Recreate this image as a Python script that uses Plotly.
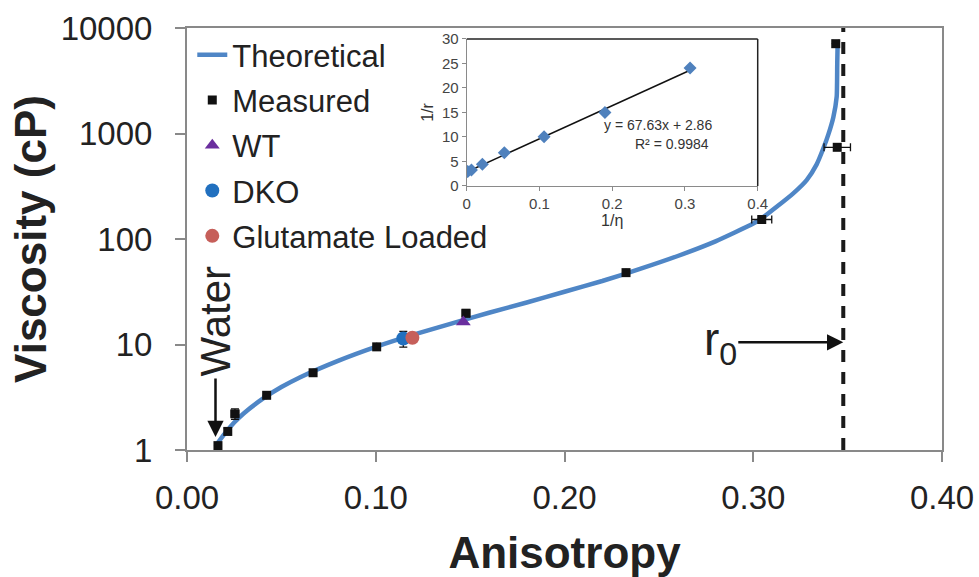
import numpy as np
import plotly.graph_objects as go

# ---------------- data ----------------
# Theoretical curve (anisotropy r, viscosity cP)
curve_r = [0.0160, 0.0200, 0.0250, 0.0300, 0.0400, 0.0500, 0.0600, 0.0800,
           0.1000, 0.1200, 0.1400, 0.1600, 0.1800, 0.2000, 0.2200, 0.2400,
           0.2600, 0.2800, 0.3000, 0.3045, 0.3124, 0.3212, 0.3283, 0.3336,
           0.3371, 0.3398, 0.3424, 0.3442, 0.3445, 0.3447]
curve_eta = [1.15, 1.43, 1.82, 2.22, 3.05, 3.95, 4.9, 7.0,
             9.5, 12.4, 15.8, 20.0, 25.0, 31.6, 40.0, 52.0,
             69.0, 95.0, 140.0, 157.0, 202.0, 271.0, 362.0, 510.0,
             720.0, 980.0, 1420.0, 2230.0, 4600.0, 7000.0]

# Measured points
meas_r = [0.0164, 0.0216, 0.0254, 0.0422, 0.0668, 0.1005, 0.1478, 0.2326, 0.3045, 0.3445, 0.3437]
meas_eta = [1.1, 1.5, 2.2, 3.3, 5.4, 9.5, 19.8, 48.0, 153.0, 740.0, 7100.0]
meas_r_err = [0.0, 0.0015, 0.0020, 0.0, 0.0, 0.0, 0.0020, 0.0, 0.0053, 0.0070, 0.0015]
meas_eta_err = [0.0, 0.1, 0.25, 0.0, 0.0, 0.0, 1.5, 0.0, 0.0, 0.0, 0.0]

# Samples
wt_r, wt_eta = [0.1464], [16.3]
dko_r, dko_eta = [0.1146], [11.4]
dko_err_plus, dko_err_minus = [1.9], [1.95]
glu_r, glu_eta = [0.1194], [11.6]

# r0 limit
R0 = 0.3477

# Inset (1/eta vs 1/r)
inset_x = [0.0001, 0.0014, 0.0065, 0.0215, 0.0517, 0.1063, 0.1900, 0.3070]
inset_y = [2.95, 2.95, 3.25, 4.43, 6.80, 10.07, 15.0, 24.1]
trend_x = [0.0, 0.3070]
trend_y = [2.86, 23.62]

x_ticks = [0.0, 0.1, 0.2, 0.3, 0.4]
x_ticktext = ["0.00", "0.10", "0.20", "0.30", "0.40"]
y_ticks = [1, 10, 100, 1000, 10000]
y_ticktext = ["1", "10", "100", "1000", "10000"]

FONT = "Liberation Sans, Arial, sans-serif"
GRAY = "#898989"
BLUE_LINE = "#4F86C6"

fig = go.Figure()

fig.add_trace(go.Scatter(
    x=curve_r, y=curve_eta, mode="lines", name="Theoretical",
    line=dict(color=BLUE_LINE, width=4.5, shape="spline", smoothing=0.5), legendgroup="a"))

fig.add_trace(go.Scatter(
    x=meas_r, y=meas_eta, mode="markers", name="Measured",
    marker=dict(symbol="square", size=9, color="#111111"),
    error_x=dict(type="data", array=meas_r_err, color="#111111", thickness=1.3, width=4),
    error_y=dict(type="data", array=meas_eta_err, color="#111111", thickness=1.3, width=4),
    legendgroup="b"))

fig.add_trace(go.Scatter(
    x=wt_r, y=wt_eta, mode="markers", name="WT",
    marker=dict(symbol="triangle-up", size=13, color="#6A2E9E"), legendgroup="c"))

fig.add_trace(go.Scatter(
    x=dko_r, y=dko_eta, mode="markers", name="DKO",
    marker=dict(symbol="circle", size=14, color="#2170BF"),
    error_y=dict(type="data", array=dko_err_plus, arrayminus=dko_err_minus,
                 color="#111111", thickness=1.3, width=4),
    legendgroup="d"))

fig.add_trace(go.Scatter(
    x=glu_r, y=glu_eta, mode="markers", name="Glutamate Loaded",
    marker=dict(symbol="circle", size=14, color="#C65F5A"), legendgroup="e"))

# inset traces
fig.add_trace(go.Scatter(
    x=trend_x, y=trend_y, mode="lines", xaxis="x2", yaxis="y2",
    line=dict(color="#111111", width=1.5), showlegend=False))
fig.add_trace(go.Scatter(
    x=inset_x, y=inset_y, mode="markers", xaxis="x2", yaxis="y2",
    marker=dict(symbol="diamond", size=10, color="#4F81BD"), showlegend=False))

# r0 dashed line
fig.add_shape(type="line", xref="x", yref="paper", x0=R0, x1=R0, y0=0, y1=1,
              line=dict(color="#1a1a1a", width=4, dash="12px,10px"))
# inset top/right frame
fig.add_shape(type="line", xref="x2 domain", yref="y2 domain", x0=0, x1=1, y0=1, y1=1,
              line=dict(color="#222222", width=1.5))
fig.add_shape(type="line", xref="x2 domain", yref="y2 domain", x0=1, x1=1, y0=0, y1=1,
              line=dict(color="#222222", width=1.5))
# small elbow at the start of the water arrow
fig.add_shape(type="line", xref="x", yref="y", x0=0.0085, x1=0.0152,
              y0=np.log10(5.1), y1=np.log10(5.1), line=dict(color="#111111", width=2.5))

annotations = [
    # Water label with arrow pointing down to the water point
    dict(x=0.0151, y=np.log10(1.33), xref="x", yref="y", text="Water", showarrow=True,
         ax=0, ay=-115, textangle=-90, arrowhead=2, arrowsize=1.3, arrowwidth=2.5,
         arrowcolor="#111111", font=dict(family=FONT, size=42, color="#222222")),
    # r0 label with arrow pointing to the dashed line
    dict(x=R0, y=np.log10(10.5), xref="x", yref="y", text="r<sub>0</sub>", showarrow=True,
         ax=-123, ay=0, arrowhead=2, arrowsize=1.3, arrowwidth=2.5, arrowcolor="#111111",
         font=dict(family=FONT, size=46, color="#222222")),
    # inset equation
    dict(x=0.263, y=12.45, xref="x2", yref="y2", text="y = 67.63x + 2.86", showarrow=False,
         font=dict(family=FONT, size=14, color="#333333")),
    dict(x=0.282, y=8.57, xref="x2", yref="y2", text="R² = 0.9984", showarrow=False,
         font=dict(family=FONT, size=14, color="#333333")),
]

fig.update_layout(
    width=979, height=577,
    margin=dict(l=187, r=37, t=28, b=127, autoexpand=False),
    paper_bgcolor="white", plot_bgcolor="white",
    font=dict(family=FONT, color="#222222"),
    showlegend=True,
    legend=dict(x=0.007, y=1.0, xanchor="left", yanchor="top",
                bgcolor="rgba(0,0,0,0)", borderwidth=0,
                font=dict(family=FONT, size=31, color="#222222"),
                tracegroupgap=2, itemsizing="trace"),
    annotations=annotations,
    xaxis=dict(range=[0, 0.4], tickvals=x_ticks, ticktext=x_ticktext, automargin=False,
               showgrid=False, zeroline=False, showline=True, linecolor=GRAY, linewidth=2,
               mirror=True, ticks="outside", ticklen=10, tickwidth=2, tickcolor=GRAY,
               tickfont=dict(family=FONT, size=33, color="#222222"), ticklabelstandoff=7,
               title=dict(text="<b>Anisotropy</b>", font=dict(family=FONT, size=44, color="#222222"),
                          standoff=29)),
    yaxis=dict(type="log", range=[0, 4], tickvals=y_ticks, ticktext=y_ticktext, automargin=False,
               showgrid=False, zeroline=False, showline=True, linecolor=GRAY, linewidth=2,
               mirror=True, ticks="outside", ticklen=10, tickwidth=2, tickcolor=GRAY,
               tickfont=dict(family=FONT, size=33, color="#222222"), ticklabelstandoff=16,
               title=dict(text="<b>Viscosity (cP)</b>", font=dict(family=FONT, size=44, color="#222222"),
                          standoff=0)),
    xaxis2=dict(domain=[0.3705, 0.7559], anchor="y2", range=[0, 0.4], dtick=0.1, automargin=False,
                showgrid=False, zeroline=False, showline=True, linecolor="#8a8a8a", linewidth=1.2,
                ticks="outside", ticklen=4, tickcolor="#8a8a8a",
                tickfont=dict(family=FONT, size=15, color="#444444"),
                title=dict(text="1/η", font=dict(family=FONT, size=16, color="#333333"), standoff=2)),
    yaxis2=dict(domain=[0.6256, 0.974], anchor="x2", range=[0, 30], dtick=5, automargin=False,
                showgrid=False, zeroline=False, showline=True, linecolor="#8a8a8a", linewidth=1.2,
                ticks="outside", ticklen=4, tickcolor="#8a8a8a",
                tickfont=dict(family=FONT, size=15, color="#444444"),
                title=dict(text="1/r", font=dict(family=FONT, size=16, color="#333333"), standoff=4)),
)

fig.write_html("out.html", config={"displayModeBar": False},
               post_script="document.body.style.margin='0';document.body.style.overflow='hidden';")
